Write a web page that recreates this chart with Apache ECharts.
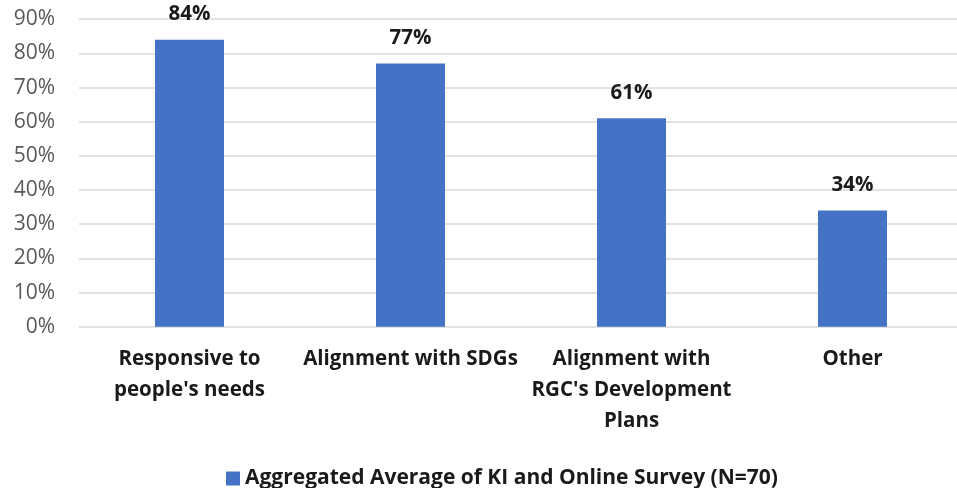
<!DOCTYPE html>
<html>
<head>
<meta charset="utf-8">
<script src="https://cdn.jsdelivr.net/npm/echarts@6/dist/echarts.min.js"></script>
<style>
  html, body { margin: 0; padding: 0; background: #fff; overflow: hidden; }
  #chart { width: 970px; height: 488px; }
</style>
</head>
<body>
<div id="chart"></div>
<script>
var categories = [
  'Responsive to\npeople\'s needs',
  'Alignment with SDGs',
  'Alignment with\nRGC\'s Development\nPlans',
  'Other'
];
var values = [84, 77, 61, 34];
var seriesName = 'Aggregated Average of KI and Online Survey (N=70)';
var yTicks = [0, 10, 20, 30, 40, 50, 60, 70, 80, 90];

var font = '"Open Sans", Lato, sans-serif';
var myChart = echarts.init(document.getElementById('chart'));

var option = {
  animation: false,
  backgroundColor: '#fff',
  grid: { left: 79, width: 884, top: 19.2, bottom: 161.3, containLabel: false },
  legend: {
    left: 221,
    top: 463,
    icon: 'rect',
    itemWidth: 14,
    itemHeight: 14,
    itemGap: 8,
    textStyle: { fontFamily: font, fontSize: 21, fontWeight: 'bold', color: '#1a1a1a' },
    data: [seriesName]
  },
  xAxis: {
    type: 'category',
    data: categories,
    axisLine: { show: false },
    axisTick: { show: false },
    axisLabel: {
      interval: 0,
      margin: 17,
      fontFamily: font,
      fontSize: 20.5,
      fontWeight: 'bold',
      color: '#1a1a1a',
      lineHeight: 31
    }
  },
  yAxis: {
    type: 'value',
    min: yTicks[0],
    max: yTicks[yTicks.length - 1],
    interval: 10,
    axisLine: { show: false },
    axisTick: { show: false },
    splitLine: { lineStyle: { color: '#d9d9d9', width: 1.5 } },
    axisLabel: {
      margin: 24,
      fontFamily: font,
      fontSize: 21,
      color: '#595959',
      formatter: function (v) { return v + '%'; }
    }
  },
  series: [
    {
      name: seriesName,
      type: 'bar',
      barWidth: 69,
      data: values,
      itemStyle: { color: '#4472C4' },
      label: {
        show: true,
        position: 'top',
        distance: 15,
        fontFamily: font,
        fontSize: 20.5,
        fontWeight: 'bold',
        color: '#1a1a1a',
        formatter: function (p) { return p.value + '%'; }
      }
    }
  ]
};

myChart.setOption(option, true);
</script>
</body>
</html>
